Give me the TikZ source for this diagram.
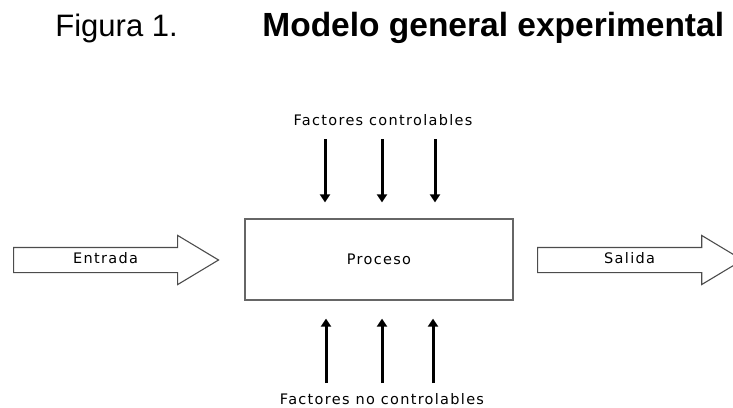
\documentclass[tikz,border=0pt]{standalone}
\usepackage{fontspec}
\setmainfont{Liberation Sans}
\newfontfamily\etiqfont[LetterSpace=9]{DejaVu Sans}
\usepackage{tikz}
\usetikzlibrary{arrows.meta}
\usetikzlibrary{shapes.arrows}

\begin{document}
\begin{tikzpicture}[->, >={Triangle[length=8pt, width=10pt]}, thick, x=1pt, y=-1pt,
    flujo/.style={single arrow, draw=black!70, line width=1.1pt,
        minimum height=205pt, single arrow head extend=12pt,
        single arrow tip angle=62, text height=8pt, text depth=2pt,
        inner ysep=7pt, inner xsep=0pt, font=\etiqfont\fontsize{14.5}{16}\selectfont},
    caja/.style={draw=black!60, line width=1.3pt, minimum width=268pt,
        minimum height=81pt, font=\etiqfont\fontsize{14.5}{16}\selectfont},
    etiq/.style={font=\etiqfont\fontsize{14.5}{16}\selectfont},
    factor/.style={line width=3pt, black}]

    \useasboundingbox (0,0) rectangle (733,407);

    % Title

    \node[anchor=base west, inner sep=0pt, font=\fontsize{31}{36}\selectfont] (fig) at (55,36) {Figura 1.}; %
    \node[anchor=base west, inner sep=0pt, font=\fontsize{33.5}{36}\selectfont\bfseries] (titulo) at (262,36) {Modelo general experimental}; %

    % Nodes

    \node[caja]    (proceso)  at (379,259.5) {Proceso} ; %
    \node[flujo, anchor=tail]    (entrada)  at (13,260) {Entrada} ; %
    \node[flujo, anchor=tail]    (salida)   at (537,260) {Salida} ; %

    % Factors
    \node[etiq] (controlables) at (383,120) {Factores controlables}; %
    \node[etiq] (nocontrolables) at (382,399) {Factores no controlables}; %

    \coordinate (c1) at (325,139);
    \coordinate (c2) at (382,139);
    \coordinate (c3) at (435,139);
    \coordinate (n1) at (326,383);
    \coordinate (n2) at (382,383);
    \coordinate (n3) at (433,383);

    \draw[factor, shorten >=16pt] (c1) -- (c1 |- proceso.north);
    \draw[factor, shorten >=16pt] (c2) -- (c2 |- proceso.north);
    \draw[factor, shorten >=16pt] (c3) -- (c3 |- proceso.north);

    \draw[factor, shorten >=18pt] (n1) -- (n1 |- proceso.south);
    \draw[factor, shorten >=18pt] (n2) -- (n2 |- proceso.south);
    \draw[factor, shorten >=18pt] (n3) -- (n3 |- proceso.south);

\end{tikzpicture}
\end{document}
